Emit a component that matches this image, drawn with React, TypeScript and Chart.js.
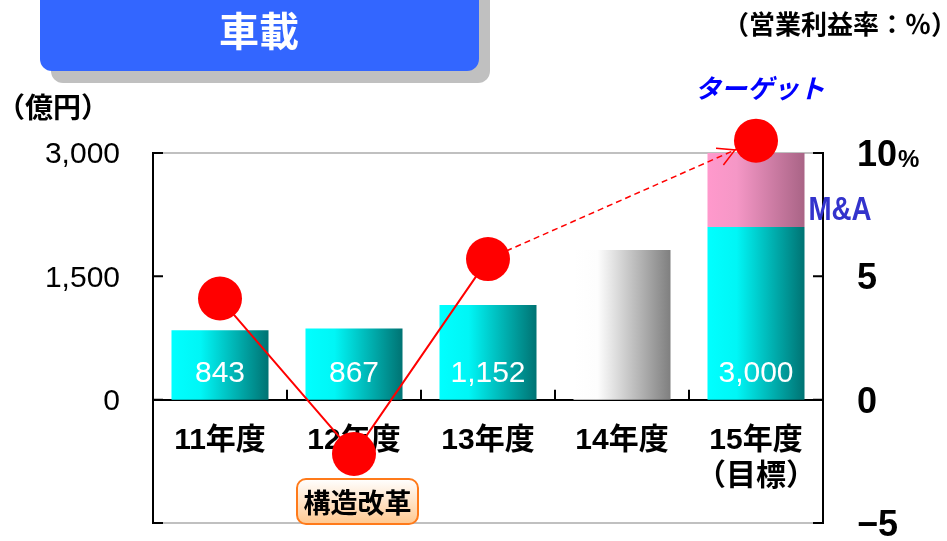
import React, { useEffect, useRef } from 'react';
import { Chart, registerables } from 'chart.js';

Chart.register(...registerables);

// ---- data ----
const categories: string[][] = [['11年度'], ['12年度'], ['13年度'], ['14年度'], ['15年度', '（目標）']];
const salesCore: number[] = [843, 867, 1152, 1820, 2100];
const salesMA: (number | null)[] = [null, null, null, null, 900];
const barValueLabels: string[] = ['843', '867', '1,152', '', '3,000'];
const marginPct: (number | null)[] = [4.1, -2.2, 5.7, null, 10.5];
const leftTickLabels: Record<number, string> = { [-1500]: '', 0: '0', 1500: '1,500', 3000: '3,000' };
const rightTickLabels: Record<number, string> = { [-5]: '−5', 0: '0', 5: '5', 10: '10' };

const JP = "'Noto Sans CJK JP', sans-serif";
const NUM = "'Liberation Sans', Arial, 'Noto Sans CJK JP', sans-serif";
const BAR_FRACTION = 0.724;
const AREA = { left: 153, top: 153, right: 823, bottom: 523 };

function barGradient(c: any, stops: [number, string][], fallback: string) {
  const chart = c.chart;
  const xs = chart.scales?.x;
  if (!xs || !chart.chartArea) return fallback;
  const cx = xs.getPixelForValue(c.dataIndex);
  const w = (xs.width / categories.length) * BAR_FRACTION;
  const g = chart.ctx.createLinearGradient(cx - w / 2, 0, cx + w / 2, 0);
  stops.forEach(([o, col]) => g.addColorStop(o, col));
  return g;
}

const CYAN: [number, string][] = [[0, '#00ffff'], [0.3, '#00f6f6'], [1, '#007373']];
const GRAY: [number, string][] = [[0, '#ffffff'], [0.25, '#fdfdfd'], [1, '#7f7f7f']];
const PINK: [number, string][] = [[0, '#ff99cc'], [0.3, '#f597c6'], [1, '#a96486']];

const overlay = {
  id: 'overlay',
  afterLayout(chart: any) {
    const a = chart.chartArea;
    a.left = AREA.left;
    a.right = AREA.right;
    a.top = AREA.top;
    a.bottom = AREA.bottom;
    a.width = AREA.right - AREA.left;
    a.height = AREA.bottom - AREA.top;
    ['y', 'y1'].forEach((id) => {
      const s = chart.scales[id];
      s.top = AREA.top;
      s.bottom = AREA.bottom;
      s.height = AREA.bottom - AREA.top;
      s.configure();
    });
  },
  beforeDraw(chart: any) {
    const ctx = chart.ctx as CanvasRenderingContext2D;
    ctx.save();
    ctx.fillStyle = '#c0c0c0';
    ctx.beginPath();
    (ctx as any).roundRect(51, -30, 439, 113, 12);
    ctx.fill();
    ctx.fillStyle = '#3366ff';
    ctx.beginPath();
    (ctx as any).roundRect(40, -30, 439, 101, 12);
    ctx.fill();
    ctx.fillStyle = '#ffffff';
    ctx.font = `bold 40px ${JP}`;
    ctx.textAlign = 'center';
    ctx.textBaseline = 'middle';
    ctx.fillText('車載', 259, 31);
    ctx.restore();
  },
  beforeDatasetsDraw(chart: any) {
    const ctx = chart.ctx as CanvasRenderingContext2D;
    const a = chart.chartArea;
    const y = chart.scales.y;
    const y1 = chart.scales.y1;
    const x = chart.scales.x;
    ctx.save();
    ctx.strokeStyle = '#c0c0c0';
    ctx.lineWidth = 2;
    ctx.beginPath();
    ctx.moveTo(a.left, a.top);
    ctx.lineTo(a.right, a.top);
    ctx.moveTo(a.left, a.bottom);
    ctx.lineTo(a.right, a.bottom);
    ctx.stroke();
    ctx.strokeStyle = '#000000';
    ctx.beginPath();
    y.ticks.forEach((t: any) => {
      const py = y.getPixelForValue(t.value);
      ctx.moveTo(a.left, py);
      ctx.lineTo(a.left + 10, py);
    });
    y1.ticks.forEach((t: any) => {
      const py = y1.getPixelForValue(t.value);
      ctx.moveTo(a.right, py);
      ctx.lineTo(a.right - 10, py);
    });
    const zy = y.getPixelForValue(0);
    for (let i = 1; i < categories.length; i++) {
      const px = (x.getPixelForValue(i - 1) + x.getPixelForValue(i)) / 2;
      ctx.moveTo(px, zy);
      ctx.lineTo(px, zy - 10);
    }
    ctx.stroke();
    ctx.restore();
  },
  afterDatasetsDraw(chart: any) {
    const ctx = chart.ctx as CanvasRenderingContext2D;
    const x = chart.scales.x;
    const y = chart.scales.y;
    ctx.save();
    ctx.fillStyle = '#ffffff';
    ctx.font = `30px ${NUM}`;
    ctx.textAlign = 'center';
    ctx.textBaseline = 'middle';
    const zy = y.getPixelForValue(0);
    barValueLabels.forEach((s, i) => {
      if (s) ctx.fillText(s, x.getPixelForValue(i), zy - 26);
    });
    const meta = chart.getDatasetMeta(2);
    const p0 = meta.data[2];
    const p1 = meta.data[4];
    if (p0 && p1) {
      const ang = Math.atan2(p1.y - p0.y, p1.x - p0.x);
      const tx = p1.x - Math.cos(ang) * 23;
      const ty = p1.y - Math.sin(ang) * 23;
      ctx.strokeStyle = '#ff0000';
      ctx.lineWidth = 1.5;
      ctx.beginPath();
      const L = 19;
      ctx.moveTo(tx - L * Math.cos(ang - 0.5), ty - L * Math.sin(ang - 0.5));
      ctx.lineTo(tx, ty);
      ctx.lineTo(tx - L * Math.cos(ang + 0.5), ty - L * Math.sin(ang + 0.5));
      ctx.stroke();
    }
    ctx.restore();
  },
  afterDraw(chart: any) {
    const ctx = chart.ctx as CanvasRenderingContext2D;
    const y1 = chart.scales.y1;
    const a = chart.chartArea;
    ctx.save();
    ctx.textBaseline = 'middle';
    ctx.textAlign = 'center';
    ctx.fillStyle = '#000000';
    ctx.font = `bold 28px ${JP}`;
    ctx.fillText('（億円）', 53, 107);
    ctx.font = `bold 26px ${JP}`;
    ctx.fillText('（営業利益率：％）', 840, 24);
    ctx.font = `bold 36px ${NUM}`;
    const w10 = ctx.measureText('10').width;
    ctx.font = `bold 24px ${NUM}`;
    ctx.textAlign = 'left';
    ctx.fillText('%', a.right + 34 + w10 + 1, y1.getPixelForValue(10) + 7);
    ctx.textAlign = 'center';
    ctx.fillStyle = '#0000ff';
    ctx.font = `italic bold 26px ${JP}`;
    ctx.fillText('ターゲット', 760, 88);
    // M&A (condensed)
    ctx.fillStyle = '#3333cc';
    ctx.font = `bold 33px ${NUM}`;
    ctx.save();
    ctx.translate(840, 211);
    ctx.scale(0.84, 1);
    ctx.fillText('M&A', 0, 0);
    ctx.restore();
    // 構造改革 box
    const bx = 297, by = 479, bw = 121, bh = 45;
    const g = ctx.createLinearGradient(0, by, 0, by + bh);
    g.addColorStop(0, '#ffffff');
    g.addColorStop(1, '#ffc890');
    ctx.fillStyle = g;
    ctx.strokeStyle = '#ff7a1a';
    ctx.lineWidth = 2;
    ctx.beginPath();
    (ctx as any).roundRect(bx, by, bw, bh, 9);
    ctx.fill();
    ctx.stroke();
    ctx.fillStyle = '#000000';
    ctx.font = `bold 27px ${JP}`;
    ctx.fillText('構造改革', bx + bw / 2, by + bh / 2 + 1);
    ctx.restore();
  },
};

export default function App() {
  const ref = useRef<HTMLCanvasElement>(null);
  useEffect(() => {
    if (!ref.current) return;
    const chart = new Chart(ref.current, {
      type: 'bar',
      data: {
        labels: categories,
        datasets: [
          {
            type: 'bar',
            label: 'core',
            data: salesCore,
            yAxisID: 'y',
            order: 2,
            categoryPercentage: 1,
            barPercentage: BAR_FRACTION,
            borderWidth: 0,
            backgroundColor: (c: any) =>
              c.dataIndex === 3 ? barGradient(c, GRAY, '#bbbbbb') : barGradient(c, CYAN, '#00cccc'),
          } as any,
          {
            type: 'bar',
            label: 'M&A',
            data: salesMA,
            yAxisID: 'y',
            order: 2,
            categoryPercentage: 1,
            barPercentage: BAR_FRACTION,
            borderWidth: 0,
            backgroundColor: (c: any) => barGradient(c, PINK, '#dd88aa'),
          } as any,
          {
            type: 'line',
            label: 'margin',
            data: marginPct,
            yAxisID: 'y1',
            order: 0,
            clip: false,
            spanGaps: true,
            borderColor: '#ff0000',
            borderWidth: 2,
            pointRadius: 22,
            pointBackgroundColor: '#ff0000',
            pointBorderColor: '#ff0000',
            pointBorderWidth: 0,
            segment: {
              borderDash: (s: any) => (marginPct[s.p0DataIndex] == null ? [6, 4] : undefined),
              borderWidth: (s: any) => (marginPct[s.p0DataIndex] == null ? 1.5 : 2),
            },
          } as any,
        ],
      },
      options: {
        responsive: false,
        animation: false,
        events: [],
        layout: { padding: { top: 153, bottom: 18, left: 0, right: 0 } },
        plugins: { legend: { display: false }, tooltip: { enabled: false } },
        scales: {
          x: {
            stacked: true,
            position: { y: 0 } as any,
            grid: { display: false, drawTicks: false },
            border: { display: true, color: '#000000', width: 2 },
            ticks: {
              color: '#000000',
              padding: 24,
              maxRotation: 0,
              autoSkip: false,
              font: { family: NUM, size: 30, weight: 'bold', lineHeight: 1.17 },
            },
            afterFit: (s: any) => {
              s.paddingLeft = 0;
              s.paddingRight = 0;
            },
          },
          y: {
            stacked: true,
            position: 'left',
            min: -1500,
            max: 3000,
            grid: { display: false, drawTicks: false },
            border: { display: true, color: '#000000', width: 2 },
            ticks: {
              stepSize: 1500,
              color: '#000000',
              padding: 33,
              labelOffset: 2,
              font: { family: NUM, size: 30, lineHeight: 1 },
              callback: (v: any) => leftTickLabels[v as number] ?? '',
            },
            afterFit: (s: any) => {
              s.width = 153;
              s.paddingTop = 0;
              s.paddingBottom = 0;
            },
          },
          y1: {
            position: 'right',
            min: -5,
            max: 10,
            grid: { display: false, drawTicks: false },
            border: { display: true, color: '#000000', width: 2 },
            ticks: {
              stepSize: 5,
              color: '#000000',
              padding: 34,
              labelOffset: 3,
              font: { family: NUM, size: 36, weight: 'bold', lineHeight: 0.9 },
              callback: (v: any) => rightTickLabels[v as number] ?? '',
            },
            afterFit: (s: any) => {
              s.width = 124;
              s.paddingTop = 0;
              s.paddingBottom = 0;
            },
          },
        },
      },
      plugins: [overlay],
    });
    return () => chart.destroy();
  }, []);
  return (
    <div style={{ position: 'absolute', left: 0, top: 0, width: 947, height: 541, background: '#ffffff' }}>
      <canvas ref={ref} width={947} height={541} style={{ display: 'block', width: 947, height: 541 }} />
    </div>
  );
}
